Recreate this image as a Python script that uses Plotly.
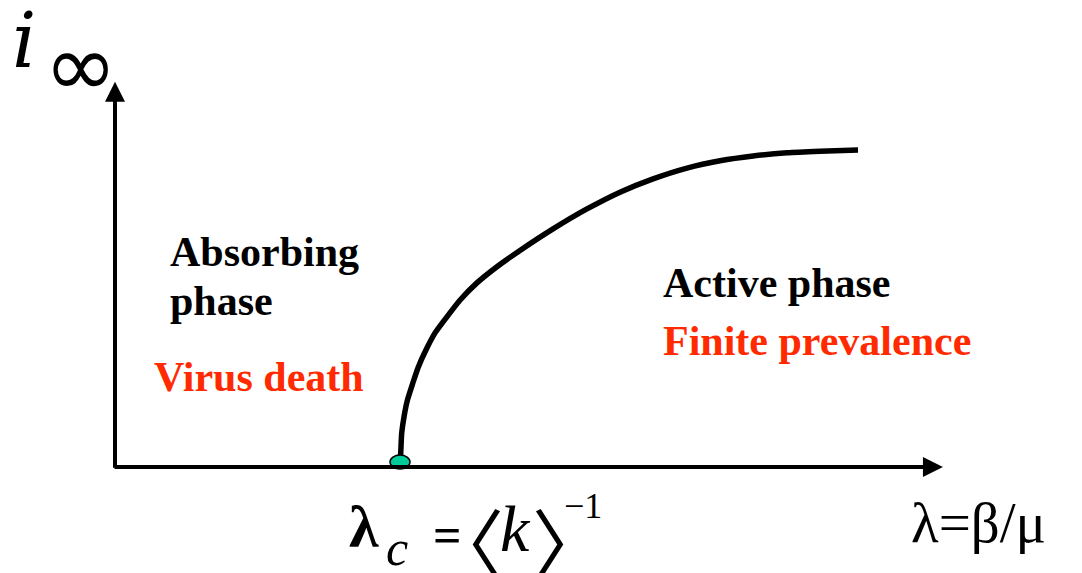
import plotly.graph_objects as go

W, H = 1082, 573

# ---- data ----
lam_c = 1.0
lam = [1.0, 1.0025, 1.006, 1.014, 1.026, 1.045, 1.064, 1.091, 1.123, 1.164, 1.211, 1.269, 1.339,
       1.421, 1.537, 1.656, 1.772, 1.888, 2.007, 2.123, 2.239, 2.358, 2.474, 2.607]
i_inf = [0.0158, 0.0442, 0.107, 0.158, 0.211, 0.265, 0.315, 0.369, 0.423, 0.473, 0.527, 0.580, 0.631,
         0.683, 0.751, 0.814, 0.867, 0.909, 0.943, 0.966, 0.981, 0.991, 0.996, 1.0]
x_axis_end = 2.905
y_axis_end = 1.215

# axis ranges (origin of the drawing at lambda=0, i=0)
x_range = [-0.40351, 3.39298]
y_range = [-0.33438, 1.47319]

RED = "#ff2a00"
SERIF = "Liberation Serif, Times New Roman, serif"
CJK = "Noto Sans CJK JP, sans-serif"


def px(x):
    return x / W


def py(y):
    return 1 - y / H


fig = go.Figure()
fig.add_trace(go.Scatter(x=lam, y=i_inf, mode="lines",
                         line=dict(color="black", width=5.5, shape="spline", smoothing=0.6),
                         hoverinfo="skip", showlegend=False))

shapes = [
    dict(type="circle", xref="x", yref="y", xsizemode="pixel", ysizemode="pixel",
         xanchor=lam_c, yanchor=i_inf[0], x0=-10, x1=10, y0=-7, y1=7,
         fillcolor="#00cc99", line=dict(color="black", width=1.5), layer="above"),
]

ann = []
# axes as arrows
ann.append(dict(x=x_axis_end, y=0, ax=-0.007, ay=0, xref="x", yref="y", axref="x", ayref="y",
                text="", showarrow=True, arrowhead=2, arrowsize=1, arrowwidth=4, arrowcolor="black", standoff=0))
ann.append(dict(x=0, y=y_axis_end, ax=0, ay=-0.007, xref="x", yref="y", axref="x", ayref="y",
                text="", showarrow=True, arrowhead=2, arrowsize=1, arrowwidth=4, arrowcolor="black", standoff=0))


def txt(t, x, y, size, color="black", family=SERIF, xanchor="left", yanchor="middle"):
    ann.append(dict(text=t, x=px(x), y=py(y), xref="paper", yref="paper", showarrow=False,
                    xanchor=xanchor, yanchor=yanchor, font=dict(size=size, color=color, family=family)))


# region labels
txt("<b>Absorbing</b>", 168, 252, 42)
txt("<b>phase</b>", 168, 301, 42)
txt("<b>Virus death</b>", 152, 377, 42, RED)
txt("<b>Active phase</b>", 661, 283, 42)
txt("<b>Finite prevalence</b>", 661, 341, 42, RED)

# y-axis label i_inf
txt("<i>i</i>", 10, 40, 76, family="DejaVu Serif, serif")
txt("∞", 42, 65, 88, family="DejaVu Sans, sans-serif")

# x-axis label
txt("λ=β/μ", 909, 522, 57)

# critical point formula
txt("<b>λ</b>", 347, 527, 60)
txt("<i>c</i>", 384, 548, 50)
txt("<b>=</b>", 431, 535, 50)
txt("〈", 506, 540, 76, family=CJK, xanchor="right")
txt("<i>k</i>", 498, 528, 66)
txt("〉", 530, 540, 76, family=CJK, xanchor="left")
txt("−1", 562, 506, 36)

fig.update_layout(
    width=W, height=H, margin=dict(l=0, r=0, t=0, b=0),
    paper_bgcolor="white", plot_bgcolor="white",
    xaxis=dict(range=x_range, visible=False, fixedrange=True),
    yaxis=dict(range=y_range, visible=False, fixedrange=True),
    shapes=shapes, annotations=ann, showlegend=False,
)

fig.write_html("out.html", config={"displayModeBar": False},
               post_script="document.body.style.margin='0px';document.body.style.overflow='hidden';")
